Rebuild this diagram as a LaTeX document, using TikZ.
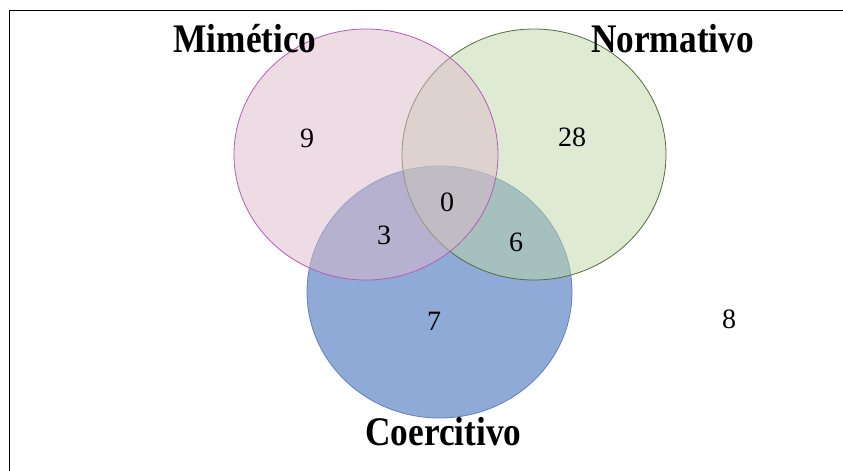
\documentclass[tikz,border=0pt]{standalone}
\usepackage{fontspec}
\setmainfont{Liberation Serif}
\definecolor{mimfill}{RGB}{221,185,201}
\definecolor{mimline}{RGB}{183,92,184}
\definecolor{norfill}{RGB}{189,215,165}
\definecolor{norline}{RGB}{84,110,62}
\definecolor{coefill}{RGB}{143,170,214}
\definecolor{coeline}{RGB}{96,130,194}

\begin{document}
\begin{tikzpicture}[x=1pt, y=-1pt,
		num/.style={anchor=base, font=\fontsize{28}{30}\selectfont},
		titulo/.style={anchor=base, yscale=1.15, transform shape, font=\fontsize{35.3}{40}\selectfont\bfseries}]
				\useasboundingbox (0,0) rectangle (843,471);
				\draw[line width=1pt] (843,10) -- (9,10) -- (9,471);
				% conjuntos
				\draw[draw=coeline, line width=.8pt, fill=coefill] (439.5,292) ellipse [x radius=132.5, y radius=126];
				\draw[draw=norline, line width=.8pt, fill=norfill, fill opacity=.5] (534,154.5) ellipse [x radius=132, y radius=125.5];
				\draw[draw=mimline, line width=.8pt, fill=mimfill, fill opacity=.5] (366,154.5) ellipse [x radius=132, y radius=125.5];
				% titulos
				\node[titulo] (mim) at (245,52) {Mimético};
				\node[titulo] (nor) at (672.5,52) {Normativo};
				\node[titulo] (coe) at (443.5,445) {Coercitivo};
				% valores
				\node[num] (m) at (307,147) {9};
				\node[num] (n) at (572,146) {28};
				\node[num] (mnc) at (447,211) {0};
				\node[num] (mc) at (384,244) {3};
				\node[num] (nc) at (516,251) {6};
				\node[num] (c) at (434,330) {7};
				\node[num] (fuera) at (729,328) {8};
			\end{tikzpicture}
\end{document}
